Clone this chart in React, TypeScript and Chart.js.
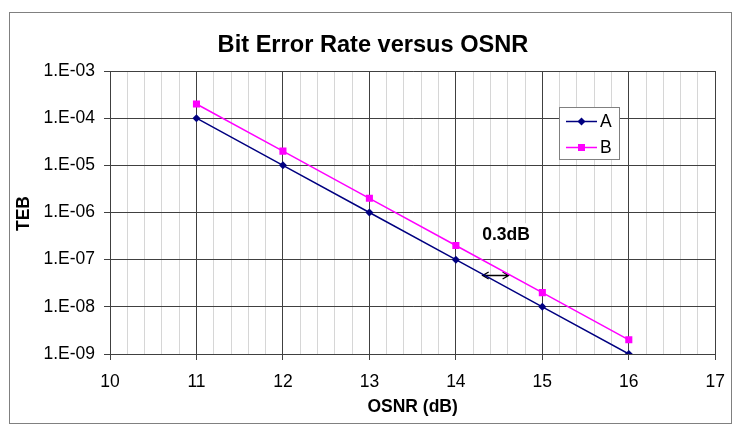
import React, { useEffect, useRef } from 'react';
import { Chart, registerables } from 'chart.js';

Chart.register(...registerables);

// ---- data ----
const osnrValues = [11, 12, 13, 14, 15, 16];
const serieA = [1e-4, 1e-5, 1e-6, 1e-7, 1e-8, 1e-9];
const serieB = [2e-4, 2e-5, 2e-6, 2e-7, 2e-8, 2e-9];
const seriesNames = ['A', 'B'];
const yTickValues = [1e-9, 1e-8, 1e-7, 1e-6, 1e-5, 1e-4, 1e-3];
const yTickLabels = ['1.E-09', '1.E-08', '1.E-07', '1.E-06', '1.E-05', '1.E-04', '1.E-03'];
const xTickValues = [10, 11, 12, 13, 14, 15, 16, 17];
const xTickLabels = ['10', '11', '12', '13', '14', '15', '16', '17'];
const chartTitle = 'Bit Error Rate versus OSNR';
const xTitle = 'OSNR (dB)';
const yTitle = 'TEB';
const noteText = '0.3dB';
const notePosition = [14.58, 3.3e-7];
const arrowEnds = [14.31, 14.61];
const arrowLevel = 4.73e-8;

const FONT = '"Liberation Sans", Arial, Helvetica, sans-serif';
const colorA = '#000080';
const colorB = '#FF00FF';
const major = '#404040';
const minor = '#d6d6d6';

const isInt = (v: number) => Math.abs(v - Math.round(v)) < 1e-6;

function drawMarker(ctx: CanvasRenderingContext2D, style: string, x: number, y: number, color: string) {
  ctx.fillStyle = color;
  ctx.beginPath();
  if (style === 'rectRot') {
    const r = 4;
    ctx.moveTo(x - r, y);
    ctx.lineTo(x, y - r);
    ctx.lineTo(x + r, y);
    ctx.lineTo(x, y + r);
    ctx.closePath();
  } else {
    const s = 3.5;
    ctx.rect(x - s, y - s, 2 * s, 2 * s);
  }
  ctx.fill();
}

const decorPlugin = {
  id: 'decor',
  beforeDraw(chart: any) {
    const ctx = chart.ctx;
    ctx.save();
    ctx.fillStyle = '#ffffff';
    ctx.fillRect(0, 0, chart.width, chart.height);
    ctx.restore();
  },
  beforeDatasetsDraw(chart: any) {
    const { ctx, scales } = chart;
    const x = scales.x;
    const y = scales.y;
    const cx = x.getPixelForValue(notePosition[0]);
    const cy = y.getPixelForValue(notePosition[1]);
    ctx.save();
    ctx.fillStyle = '#ffffff';
    ctx.fillRect(cx - 27, cy - 12, 53, 26);
    ctx.fillStyle = '#000';
    ctx.font = `bold 17.5px ${FONT}`;
    ctx.textAlign = 'center';
    ctx.textBaseline = 'middle';
    ctx.fillText(noteText, cx, cy);
    // double arrow
    const x1 = x.getPixelForValue(arrowEnds[0]);
    const x2 = x.getPixelForValue(arrowEnds[1]);
    const ay = Math.round(y.getPixelForValue(arrowLevel)) + 0.5;
    ctx.strokeStyle = '#000';
    ctx.lineWidth = 1.3;
    ctx.beginPath();
    ctx.moveTo(x1, ay);
    ctx.lineTo(x2, ay);
    ctx.moveTo(x1 + 6, ay - 3.5);
    ctx.lineTo(x1, ay);
    ctx.lineTo(x1 + 6, ay + 3.5);
    ctx.moveTo(x2 - 6, ay - 3.5);
    ctx.lineTo(x2, ay);
    ctx.lineTo(x2 - 6, ay + 3.5);
    ctx.stroke();
    ctx.restore();
  },
  afterDraw(chart: any) {
    const { ctx, scales } = chart;
    const x = scales.x;
    const y = scales.y;
    ctx.save();
    // outer frame
    ctx.strokeStyle = '#808080';
    ctx.lineWidth = 1;
    ctx.strokeRect(9.5, 12.5, 722, 411);
    // title
    ctx.fillStyle = '#000';
    ctx.textAlign = 'center';
    ctx.textBaseline = 'middle';
    ctx.font = `bold 23.6px ${FONT}`;
    ctx.fillText(chartTitle, 373, 45);
    // axis titles
    ctx.font = `bold 17.5px ${FONT}`;
    ctx.fillText(xTitle, (x.left + x.right) / 2, 407);
    ctx.save();
    ctx.translate(24, (y.top + y.bottom) / 2 + 1);
    ctx.rotate(-Math.PI / 2);
    ctx.fillText(yTitle, 0, 0);
    ctx.restore();
    // legend
    const lx = 559.5, ly = 107.5, lw = 60, lh = 52;
    ctx.fillStyle = '#ffffff';
    ctx.fillRect(lx, ly, lw, lh);
    ctx.strokeStyle = '#808080';
    ctx.strokeRect(lx, ly, lw, lh);
    const entries = [
      { name: seriesNames[0], color: colorA, style: 'rectRot', yy: 121.5 },
      { name: seriesNames[1], color: colorB, style: 'rect', yy: 147.5 },
    ];
    entries.forEach((e) => {
      ctx.strokeStyle = e.color;
      ctx.lineWidth = 1.5;
      ctx.beginPath();
      ctx.moveTo(566, e.yy);
      ctx.lineTo(597, e.yy);
      ctx.stroke();
      drawMarker(ctx, e.style, 581.5, e.yy, e.color);
      ctx.fillStyle = '#000';
      ctx.font = `17.5px ${FONT}`;
      ctx.textAlign = 'left';
      ctx.textBaseline = 'middle';
      ctx.fillText(e.name, 600, e.yy + 1);
    });
    ctx.restore();
  },
};

export default function App() {
  const canvasRef = useRef<HTMLCanvasElement | null>(null);

  useEffect(() => {
    if (!canvasRef.current) return;
    const chart = new Chart(canvasRef.current, {
      type: 'line',
      data: {
        datasets: [
          {
            label: seriesNames[0],
            data: osnrValues.map((v, i) => ({ x: v, y: serieA[i] })),
            borderColor: colorA,
            backgroundColor: colorA,
            borderWidth: 1.5,
            pointStyle: 'rectRot',
            pointRadius: 4,
            pointHoverRadius: 4,
            pointBorderWidth: 0,
            fill: false,
            tension: 0,
          },
          {
            label: seriesNames[1],
            data: osnrValues.map((v, i) => ({ x: v, y: serieB[i] })),
            borderColor: colorB,
            backgroundColor: colorB,
            borderWidth: 1.5,
            pointStyle: 'rect',
            pointRadius: 5,
            pointHoverRadius: 5,
            pointBorderWidth: 0,
            fill: false,
            tension: 0,
          },
        ],
      },
      options: {
        responsive: false,
        animation: false,
        events: [],
        layout: { padding: { left: 0, top: 71, right: 20, bottom: 0 } },
        plugins: {
          legend: { display: false },
          title: { display: false },
          tooltip: { enabled: false },
        },
        scales: {
          x: {
            type: 'linear',
            min: xTickValues[0],
            max: xTickValues[xTickValues.length - 1],
            afterFit: (s: any) => { s.height = 76; },
            ticks: {
              stepSize: 0.2,
              autoSkip: false,
              maxRotation: 0,
              padding: 12,
              color: '#000',
              font: { family: FONT, size: 17.5 },
              callback: (v: any) => {
                const n = Number(v);
                if (!isInt(n)) return '';
                const idx = xTickValues.indexOf(Math.round(n));
                return idx >= 0 ? xTickLabels[idx] : '';
              },
            },
            grid: {
              color: (c: any) => (c.tick && isInt(c.tick.value) ? major : minor),
              tickColor: (c: any) => (c.tick && isInt(c.tick.value) ? major : 'rgba(0,0,0,0)'),
              tickLength: 6,
              lineWidth: 1,
            },
            border: { display: true, color: major, width: 1 },
          },
          y: {
            type: 'logarithmic',
            min: yTickValues[0],
            max: yTickValues[yTickValues.length - 1],
            afterFit: (s: any) => { s.width = 110; },
            afterBuildTicks: (s: any) => {
              s.ticks = yTickValues.map((v) => ({ value: v }));
            },
            ticks: {
              autoSkip: false,
              padding: 9,
              color: '#000',
              font: { family: FONT, size: 17.5 },
              callback: (v: any) => {
                const n = Number(v);
                const idx = yTickValues.findIndex((t) => Math.abs(Math.log10(t) - Math.log10(n)) < 1e-6);
                return idx >= 0 ? yTickLabels[idx] : '';
              },
            },
            grid: {
              color: major,
              tickColor: major,
              tickLength: 6,
              lineWidth: 1,
            },
            border: { display: true, color: major, width: 1 },
          },
        },
      },
      plugins: [decorPlugin],
    } as any);
    return () => chart.destroy();
  }, []);

  return (
    <div style={{ position: 'absolute', left: 0, top: 0, width: 737, height: 430 }}>
      <canvas ref={canvasRef} width={737} height={430} style={{ display: 'block', width: 737, height: 430 }} />
    </div>
  );
}
